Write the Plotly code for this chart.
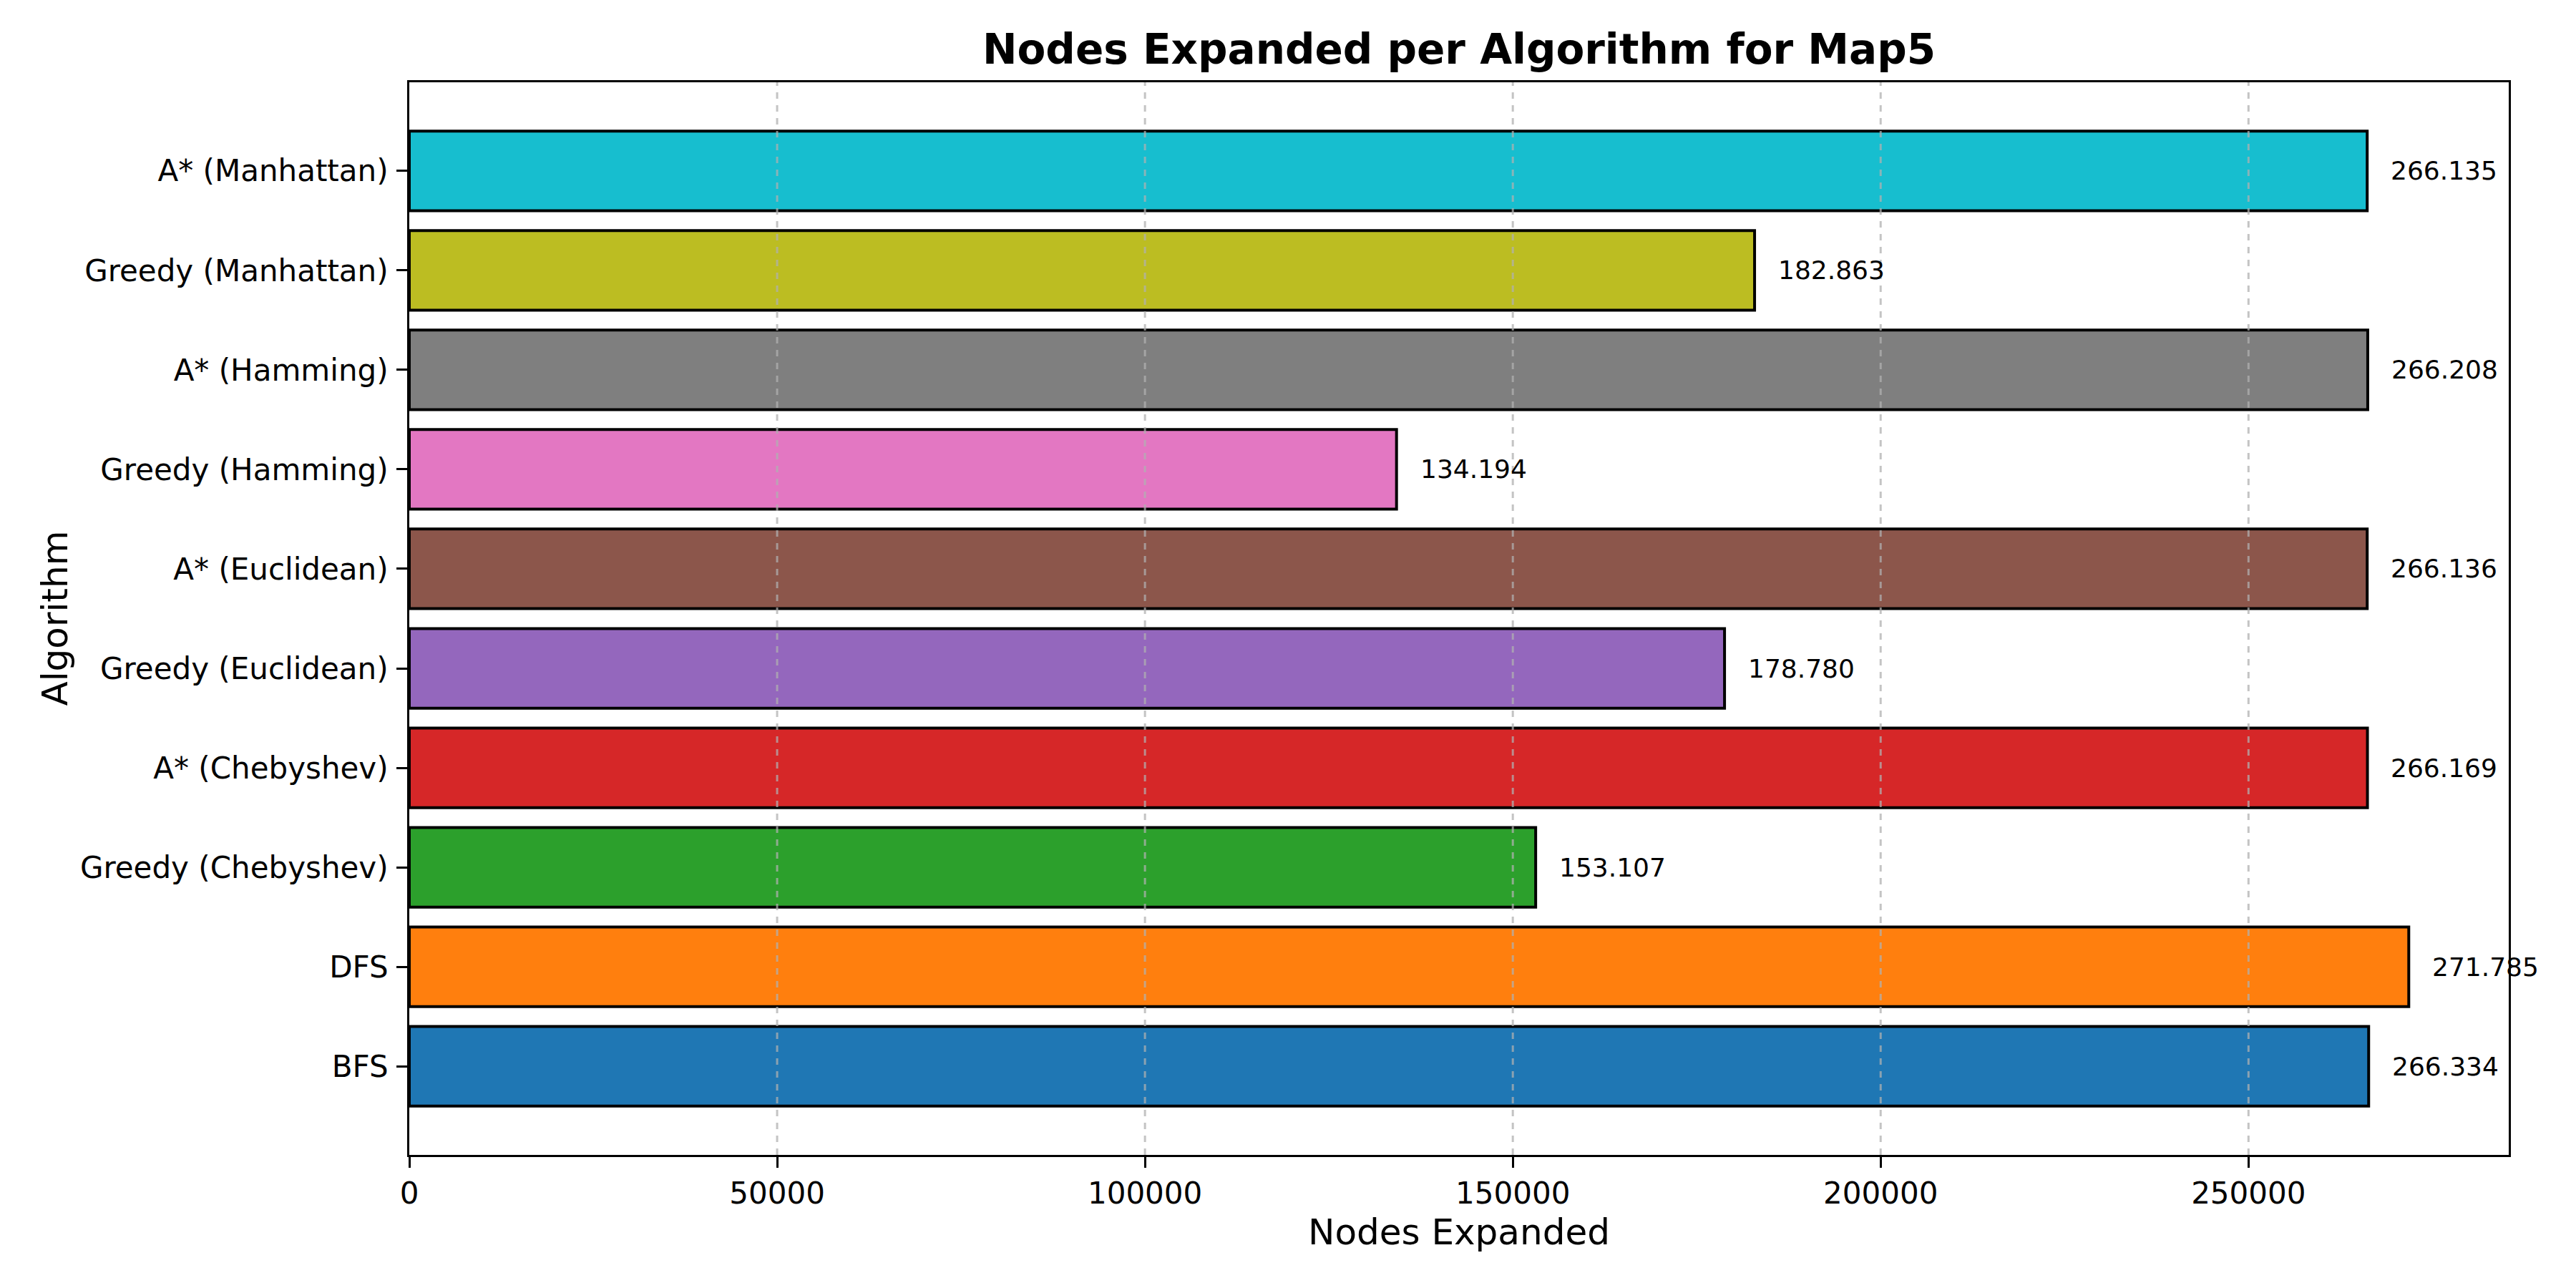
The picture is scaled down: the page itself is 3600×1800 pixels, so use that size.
import plotly.graph_objects as go

algorithms = [
    "BFS", "DFS", "Greedy (Chebyshev)", "A* (Chebyshev)",
    "Greedy (Euclidean)", "A* (Euclidean)", "Greedy (Hamming)",
    "A* (Hamming)", "Greedy (Manhattan)", "A* (Manhattan)",
]
nodes_expanded = [266334, 271785, 153107, 266169, 178780, 266136, 134194, 266208, 182863, 266135]
bar_colors = ["#1f77b4", "#ff7f0e", "#2ca02c", "#d62728", "#9467bd",
              "#8c564b", "#e377c2", "#7f7f7f", "#bcbd22", "#17becf"]
x_ticks = [0, 50000, 100000, 150000, 200000, 250000]

W, H = 3600, 1800
L, R, T, B = 572, 94, 115, 186
FONT = "DejaVu Sans"

positions = list(range(len(algorithms)))
xmax = max(nodes_expanded) * 1.05
label_offset = 3000

fig = go.Figure()
fig.add_trace(go.Bar(
    y=positions, x=nodes_expanded, orientation="h", width=0.8,
    marker=dict(color=bar_colors, line=dict(color="black", width=4)),
    hoverinfo="skip", showlegend=False,
))

annotations = []
for p, v in zip(positions, nodes_expanded):
    annotations.append(dict(
        x=v + label_offset, y=p, xref="x", yref="y",
        text=f"{v:,}".replace(",", "."), showarrow=False,
        xanchor="left", yanchor="middle",
        font=dict(family=FONT, size=36, color="black"),
    ))

plot_w = W - L - R
plot_h = H - T - B
annotations.append(dict(
    x=0.5, y=(T + plot_h - 1722) / plot_h, xref="paper", yref="paper",
    text="Nodes Expanded", showarrow=False, xanchor="center", yanchor="middle",
    font=dict(family=FONT, size=50, color="black"),
))
annotations.append(dict(
    x=(76 - L) / plot_w, y=0.5, xref="paper", yref="paper",
    text="Algorithm", showarrow=False, xanchor="center", yanchor="middle",
    textangle=-90, font=dict(family=FONT, size=50, color="black"),
))

shapes = []
for t in x_ticks[1:]:
    shapes.append(dict(
        type="line", xref="x", yref="paper", x0=t, x1=t, y0=0, y1=1,
        line=dict(color="rgba(176,176,176,0.75)", width=3, dash="dash"),
        layer="above",
    ))

fig.update_layout(
    width=W, height=H,
    margin=dict(l=L, r=R, t=T, b=B, pad=0),
    paper_bgcolor="white", plot_bgcolor="white",
    title=dict(
        text="<b>Nodes Expanded per Algorithm for Map5</b>",
        x=(L + plot_w / 2) / W, xanchor="center",
        y=1 - 69 / H, yanchor="middle",
        font=dict(family=FONT, size=58, color="black"),
    ),
    annotations=annotations,
    shapes=shapes,
    font=dict(family=FONT, color="black"),
)
fig.update_xaxes(
    range=[0, xmax], tickvals=x_ticks, tickformat="d",
    showgrid=False, zeroline=False,
    showline=True, linecolor="black", linewidth=3, mirror=True,
    ticks="outside", ticklen=15, tickwidth=3, tickcolor="black",
    tickfont=dict(family=FONT, size=42, color="black"),
)
fig.update_yaxes(
    range=[-0.89, len(algorithms) - 1 + 0.89],
    tickvals=positions, ticktext=algorithms,
    showgrid=False, zeroline=False,
    showline=True, linecolor="black", linewidth=3, mirror=True,
    ticks="outside", ticklen=15, tickwidth=3, tickcolor="black",
    ticklabelstandoff=3,
    tickfont=dict(family=FONT, size=42, color="black"),
)

fig.write_html("out.html")
